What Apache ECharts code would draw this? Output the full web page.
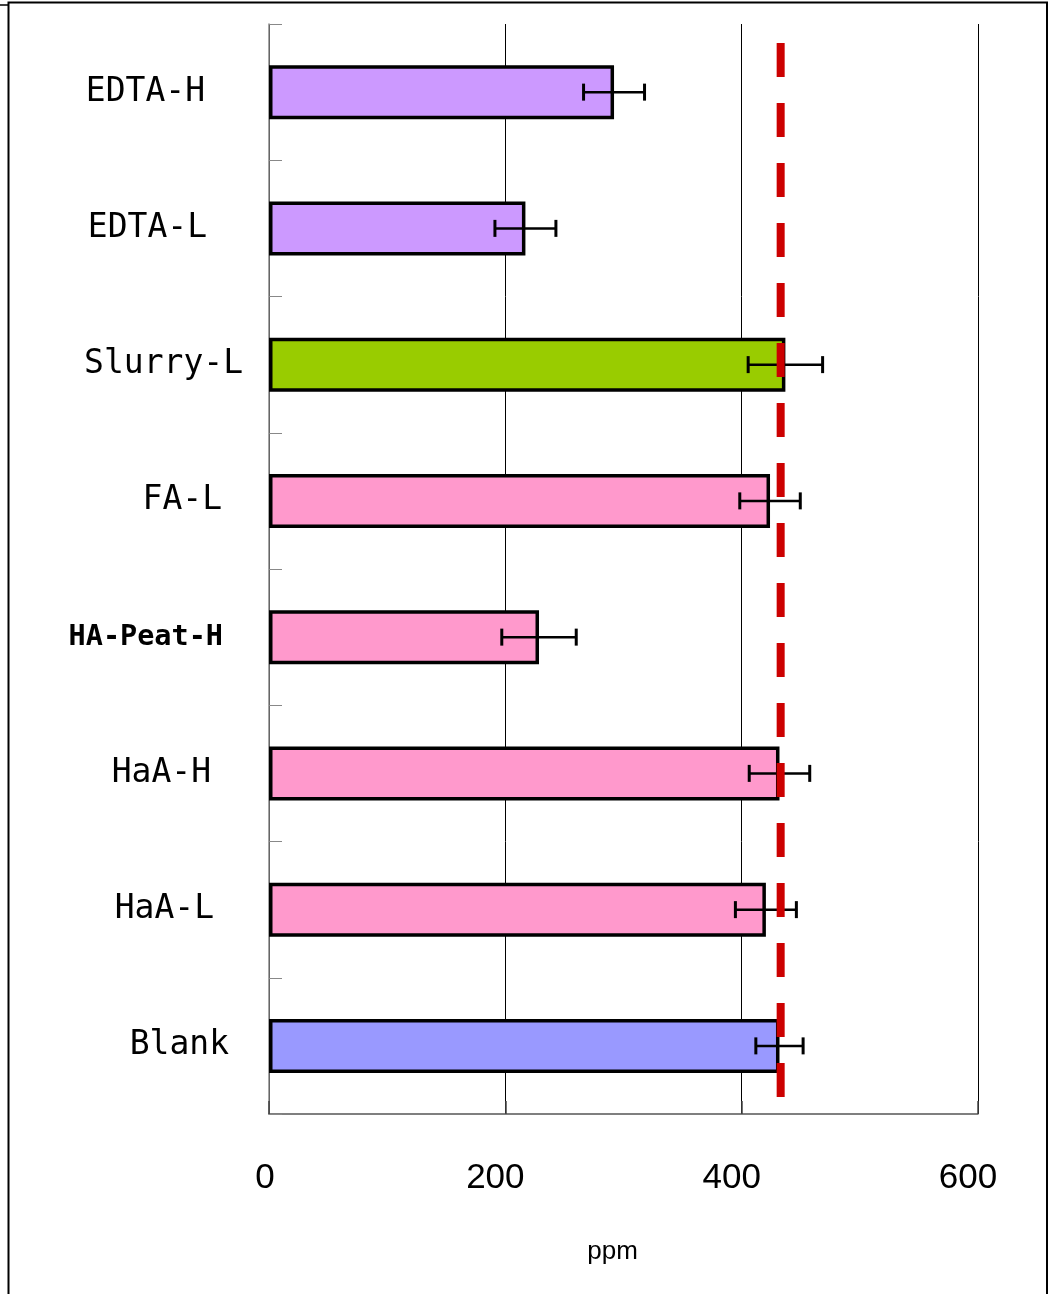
<!DOCTYPE html>
<html>
<head>
<meta charset="utf-8">
<title>ppm</title>
<script src="https://cdn.jsdelivr.net/npm/echarts@6/dist/echarts.min.js"></script>
<style>
  html, body { margin: 0; padding: 0; background: #fff; }
  #chart { width: 1057px; height: 1294px; }
</style>
</head>
<body>
<div id="chart"></div>
<script>
// Treatments, listed from top to bottom
const categories = ['EDTA-H', 'EDTA-L', 'Slurry-L', 'FA-L', 'HA-Peat-H', 'HaA-H', 'HaA-L', 'Blank'];
// Mean concentration (ppm) and its error (±ppm)
const means  = [292, 217, 437, 424, 228.5, 432, 420.5, 432];
const errors = [25.8, 25.8, 31.5, 25.6, 31.5, 25.6, 25.8, 20];
const barColors = ['#CC99FF', '#CC99FF', '#99CC00', '#FF99CC', '#FF99CC', '#FF99CC', '#FF99CC', '#9999FF'];
// Value axis ticks
const xTicks = [0, 200, 400, 600];
// Reference level drawn as the red dashed line (ppm)
const referenceLevel = 433;

// ---- layout / styling ----
const LABEL_FONT = '"DejaVu Sans Mono", "Liberation Mono", monospace';
const NUM_FONT = '"Liberation Sans", Arial, sans-serif';
// extra right padding of each category label (keeps the hand-placed look)
const labelPad = [38, 36, 0, 21, 20, 32, 29, 14];
// vertical span of the reference line, in category-band units (0 = bottom, 8 = top)
const refSpanTop = 7.86, refSpanBottom = 0.125;

const rich = {};
categories.forEach((c, i) => {
  const bold = c === 'HA-Peat-H';
  rich['c' + i] = {
    fontFamily: LABEL_FONT,
    fontSize: bold ? 28.5 : 33,
    fontWeight: bold ? 'bold' : 'normal',
    color: '#000',
    padding: [0, labelPad[i], 0, 0]
  };
});

const errData = categories.map((c, i) => [i, means[i] - errors[i], means[i] + errors[i]]);

const chart = echarts.init(document.getElementById('chart'), null, { renderer: 'canvas' });

chart.setOption({
  backgroundColor: '#fff',
  animation: false,
  grid: { left: 269, right: 79, top: 24, bottom: 180, containLabel: false, outerBoundsMode: 'none' },
  xAxis: {
    type: 'value',
    min: xTicks[0],
    max: xTicks[xTicks.length - 1],
    interval: xTicks[1] - xTicks[0],
    name: 'ppm',
    nameLocation: 'middle',
    nameGap: 125,
    nameTextStyle: { fontFamily: NUM_FONT, fontSize: 26, color: '#000', padding: [0, 22, 0, 0] },
    axisLine: { show: true, lineStyle: { color: '#555', width: 1.5 } },
    axisTick: { show: true, inside: true, length: 13, lineStyle: { color: '#444', width: 1.5 } },
    splitLine: { show: true, lineStyle: { color: '#000', width: 1 } },
    axisLabel: {
      margin: 47,
      formatter: v => (v === 0 ? '{z|' + v + '}' : '{n|' + v + '}'),
      rich: {
        z: { fontFamily: NUM_FONT, fontSize: 35, color: '#000', padding: [0, 8, 0, 0] },
        n: { fontFamily: NUM_FONT, fontSize: 35, color: '#000', padding: [0, 20, 0, 0] }
      }
    }
  },
  yAxis: [
    {
      type: 'category',
      data: categories,
      inverse: true,
      axisLine: { show: true, lineStyle: { color: '#888', width: 1.5 } },
      axisTick: { show: true, inside: true, length: 13, lineStyle: { color: '#888', width: 1 } },
      splitLine: { show: false },
      axisLabel: {
        margin: 26,
        formatter: (v, i) => '{c' + i + '|' + v + '}',
        rich: rich
      }
    },
    { type: 'value', min: 0, max: 8, show: false }
  ],
  series: [
    {
      type: 'bar',
      yAxisIndex: 0,
      barWidth: 54,
      z: 2,
      data: means.map((v, i) => ({
        value: v,
        itemStyle: { color: barColors[i], borderColor: '#000', borderWidth: 3.5 }
      }))
    },
    {
      type: 'custom',
      yAxisIndex: 0,
      z: 3,
      data: errData,
      encode: { y: 0, x: [1, 2] },
      renderItem: function (params, api) {
        const cat = api.value(0);
        const lo = api.coord([api.value(1), cat]);
        const hi = api.coord([api.value(2), cat]);
        const h = 8.5;
        const stroke = { stroke: '#000', lineWidth: 3 };
        return {
          type: 'group',
          children: [
            { type: 'line', shape: { x1: lo[0], y1: lo[1], x2: hi[0], y2: hi[1] }, style: { stroke: '#000', lineWidth: 2.5 } },
            { type: 'line', shape: { x1: lo[0], y1: lo[1] - h, x2: lo[0], y2: lo[1] + h }, style: stroke },
            { type: 'line', shape: { x1: hi[0], y1: hi[1] - h, x2: hi[0], y2: hi[1] + h }, style: stroke }
          ]
        };
      }
    },
    {
      type: 'line',
      yAxisIndex: 1,
      z: 4,
      symbol: 'none',
      silent: true,
      data: [[referenceLevel, refSpanTop], [referenceLevel, refSpanBottom]],
      lineStyle: { color: '#CC0000', width: 8, type: [34, 26], cap: 'butt' }
    }
  ],
  graphic: [
    {
      type: 'rect',
      silent: true,
      shape: { x: 8.5, y: 2.5, width: 1038.5, height: 1320 },
      style: { fill: null, stroke: '#000', lineWidth: 2 },
      z: 100
    },
    {
      type: 'line',
      silent: true,
      shape: { x1: 0, y1: 5, x2: 8.5, y2: 5 },
      style: { stroke: '#000', lineWidth: 1.5 },
      z: 100
    }
  ]
});
</script>
</body>
</html>
